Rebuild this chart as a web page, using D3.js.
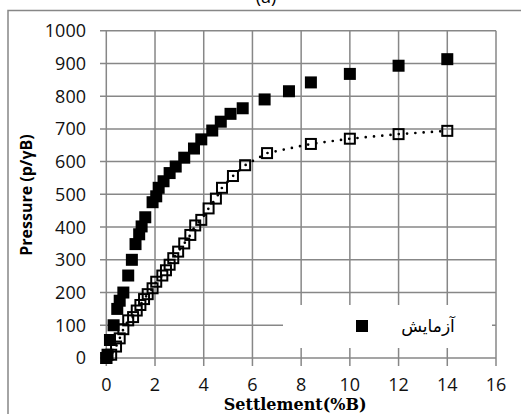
<!DOCTYPE html>
<html><head><meta charset="utf-8">
<script src="https://cdn.jsdelivr.net/npm/d3@7"></script>
<style>body{margin:0;background:#fff}svg{display:block}</style>
</head><body>
<svg id="c" width="521" height="414"></svg>
<script>
// Data
const testX = [0,0.05,0.15,0.3,0.45,0.55,0.7,0.9,1.05,1.2,1.35,1.45,1.6,1.9,2.05,2.15,2.35,2.6,2.85,3.2,3.6,3.9,4.35,4.7,5.1,5.6,6.5,7.5,8.4,10,12,14];
const testY = [0,10,55,100,150,175,200,252,300,348,378,402,430,476,494,520,540,565,585,612,640,668,695,722,746,763,790,815,842,868,893,913];
const modelX = [0,0.2,0.4,0.55,0.7,0.9,1.1,1.25,1.4,1.55,1.7,1.9,2.05,2.3,2.45,2.6,2.75,2.95,3.2,3.45,3.65,3.9,4.2,4.5,4.75,5.2,5.7,6.6,8.4,10,12,14];
const modelY = [0,10,35,60,88,115,125,145,162,180,195,213,233,252,268,285,305,325,350,376,405,422,457,487,520,556,589,626,654,670,684,694];
const xTicks = [0,2,4,6,8,10,12,14,16];
const yTicks = [0,100,200,300,400,500,600,700,800,900,1000];
const legendLabel = "آزمایش";
const xTitle = "Settlement(%B)";
const yTitle = "Pressure (p/γB)";
const chartTitle = "(a)";

const svg = d3.select("#c");
const x = d3.scaleLinear().domain([0,16]).range([106.3,496]);
const y = d3.scaleLinear().domain([0,1000]).range([358,30.7]);
const grid = "#878787";

// outer border
svg.append("rect").attr("x",8).attr("y",10.5).attr("width",600).attr("height",600)
  .attr("fill","none").attr("stroke",grid).attr("stroke-width",1.5);
svg.append("text").attr("x",266).attr("y",3).attr("text-anchor","middle")
  .attr("font-family","Open Sans").attr("font-size",18).text(chartTitle);

// gridlines
svg.append("g").selectAll("line").data(yTicks).join("line")
  .attr("x1",100).attr("x2",x(16)).attr("y1",d=>y(d)).attr("y2",d=>y(d))
  .attr("stroke",grid).attr("stroke-width",1.5);
svg.append("g").selectAll("line").data(xTicks).join("line")
  .attr("x1",d=>x(d)).attr("x2",d=>x(d)).attr("y1",y(1000)).attr("y2",366)
  .attr("stroke",grid).attr("stroke-width",1.5);

// tick labels
svg.append("g").selectAll("text").data(yTicks).join("text")
  .attr("x",86).attr("y",d=>y(d)).attr("dy","0.36em").attr("text-anchor","end")
  .attr("font-family","Open Sans").attr("font-size",18).attr("fill","#111").text(d=>d);
svg.append("g").selectAll("text").data(xTicks).join("text")
  .attr("x",d=>x(d)).attr("y",391).attr("text-anchor","middle")
  .attr("font-family","Open Sans").attr("font-size",18).attr("fill","#111").text(d=>d);

// axis titles
svg.append("text").attr("x",x(8)-6).attr("y",410).attr("text-anchor","middle")
  .attr("font-family","DejaVu Serif").attr("font-weight","bold").attr("font-size",16).text(xTitle);
svg.append("text").attr("transform","translate(32,195) rotate(-90)").attr("text-anchor","middle")
  .attr("font-family","Open Sans").attr("font-weight","bold").attr("font-size",16).text(yTitle);

// legend background
svg.append("rect").attr("x",283).attr("y",305).attr("width",209).attr("height",43).attr("fill","#fff");
svg.append("rect").attr("x",356).attr("y",320).attr("width",12).attr("height",12).attr("fill","#000");
svg.append("text").attr("x",428).attr("y",326).attr("dy","0.35em").attr("text-anchor","middle")
  .attr("font-family","DejaVu Sans").attr("font-size",17).text(legendLabel);

// test series (filled squares)
const test = testX.map((v,i)=>[v,testY[i]]);
svg.append("g").selectAll("rect").data(test).join("rect")
  .attr("x",d=>x(d[0])-6).attr("y",d=>y(d[1])-6).attr("width",12).attr("height",12).attr("fill","#000");

// model series (dotted line + open squares)
const model = modelX.map((v,i)=>[v,modelY[i]]);
svg.append("path").datum(model)
  .attr("d",d3.line().x(d=>x(d[0])).y(d=>y(d[1])))
  .attr("fill","none").attr("stroke","#000").attr("stroke-width",2.7)
  .attr("stroke-linecap","round").attr("stroke-dasharray","0,8.3");
svg.append("g").selectAll("rect").data(model).join("rect")
  .attr("x",d=>x(d[0])-5).attr("y",d=>y(d[1])-5).attr("width",10).attr("height",10)
  .attr("fill","none").attr("stroke","#000").attr("stroke-width",2);
</script>
</body></html>
